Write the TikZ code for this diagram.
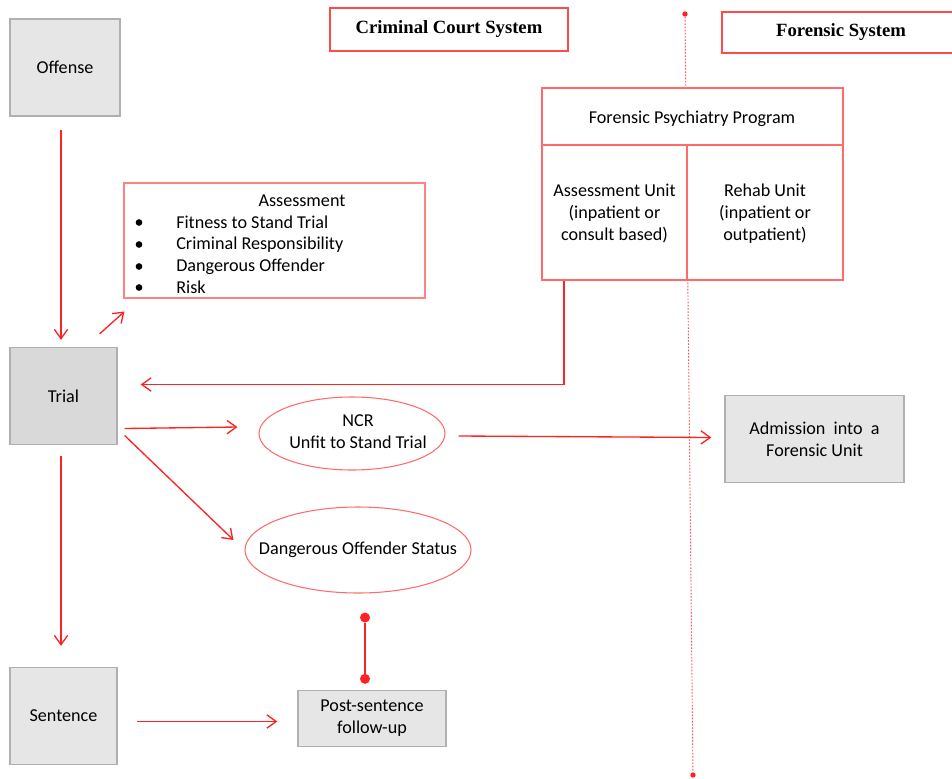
\documentclass[tikz,border=0pt]{standalone}
\usepackage{fontspec}
\setmainfont{Carlito}
\newfontfamily\titlefont{Liberation Serif}
\usetikzlibrary{arrows.meta,shapes.geometric,calc}
\definecolor{ared}{HTML}{FF2222}
\definecolor{bred}{HTML}{FF4A4A}
\definecolor{lred}{HTML}{FF6B6B}
\definecolor{gfill}{HTML}{E6E6E6}
\definecolor{gfilld}{HTML}{D9D9D9}
\definecolor{gline}{HTML}{B0B0B0}
\def\u{0.75pt}
\tikzset{
  every node/.style={font=\fontsize{13.6}{16.5}\selectfont, text=black},
  gbox/.style={draw=gline, line width=1pt, fill=gfill, inner sep=0pt},
  titlebox/.style={draw=bred, line width=1.4pt, fill=white, inner sep=0pt,
     font=\titlefont\bfseries\fontsize{14}{16}\selectfont, text=black},
  redbox/.style={draw=lred, line width=0.8pt, fill=white, inner sep=0pt, align=center},
  redell/.style={draw=lred, line width=0.8pt, ellipse, inner sep=0pt},
  arr/.style={draw=ared, line width=1pt, -{Straight Barb[length=7pt,width=10pt]}},
  dotline/.style={draw=ared!80, line width=0.7pt, dash pattern=on 1.2pt off 1.2pt},
  dotc/.style={circle, fill=ared, inner sep=0pt, minimum size=#1},
}
\begin{document}
\begin{tikzpicture}[x=\u,y=-\u]
\useasboundingbox (0,0) rectangle (952,778);

% dotted divider
\node[dotc=4pt] (dtop) at (685,14) {};
\node[dotc=4pt] (dbot) at (693,775) {};
\draw[dotline] (dtop) -- (dbot);

% titles
\node[titlebox, minimum width=238*\u, minimum height=43*\u] (ccs) at (449,29.5) {\raisebox{2pt}{Criminal Court System}};
\node[titlebox, minimum width=238*\u, minimum height=41*\u] (fs) at (841,32.5) {\raisebox{2pt}{Forensic System}};

% left column boxes
\node[gbox, minimum width=110*\u, minimum height=97*\u] (offense) at (65,67.5) {Offense};
\node[gbox, fill=gfilld, minimum width=107*\u, minimum height=97*\u] (trial) at (63.5,396) {Trial};
\node[gbox, minimum width=107*\u, minimum height=97*\u] (sentence) at (63.5,716) {Sentence};
\node[gbox, align=center, minimum width=148*\u, minimum height=56*\u] (post) at (372,718.5) {Post-sentence\\follow-up};
\node[gbox, align=center, minimum width=179*\u, minimum height=87*\u] (adm) at (814.5,439) {Admission\ \ into\ \ a\\Forensic Unit};

% assessment box
\node[redbox, draw=lred!85, minimum width=301*\u, minimum height=115*\u] (assess) at (274.5,240.5) {};
\node (atitle) at (302,200.5) {Assessment};
\foreach \i/\t/\yy in {1/Fitness to Stand Trial/222.5, 2/Criminal Responsibility/244.5, 3/Dangerous Offender/266.5, 4/Risk/287.5}{
  \node[dotc=5pt, fill=black] (b\i) at (139,\yy) {};
  \node[anchor=west, inner sep=0pt] (t\i) at (176,\yy) {\t};
}

% forensic psychiatry program
\node[redbox, minimum width=301*\u, minimum height=57*\u] (fpp) at (692.5,116.5) {};
\node (fppt) at (692,118.5) {Forensic Psychiatry Program};
\node[redbox, minimum width=145*\u, minimum height=135*\u] (au) at (614.5,212.5) {};
\node[align=center] (aut) at (614.5,213.5) {Assessment Unit\\(inpatient or\\consult based)};
\node[redbox, minimum width=156*\u, minimum height=135*\u] (ru) at (765,212.5) {};
\node[align=center] (rut) at (765,213.5) {Rehab Unit\\(inpatient or\\outpatient)};

% ellipses
\node[redell, minimum width=186*\u, minimum height=73*\u] (ncr) at (352,433.5) {};
\node[align=center] (ncrt) at (358,432) {NCR\\Unfit to Stand Trial};
\node[redell, minimum width=226*\u, minimum height=86*\u] (dang) at (358,550) {};
\node (dangt) at (358,549.5) {Dangerous Offender Status};

% connectors
\draw[arr] ($(offense.south)+(-4,13)$) -- ($(trial.north)+(-2.5,-7)$);
\draw[arr] ($(trial.north east)+(-18,-13)$) -- ($(assess.south west)+(1,13)$);
\draw[arr] ($(au.south west)+(22.5,0)$) |- ($(trial.east)+(23,-11.5)$);
\draw[arr] ($(trial.east)+(7,32.5)$) -- ($(ncr.west)+(-21,-6.5)$);
\draw[arr] ($(ncr.east)+(13,2.5)$) -- ($(adm.west)+(-13,-1.5)$);
\draw[arr] ($(trial.east)+(7,39.5)$) -- ($(dang.west)+(-11,-10)$);
\draw[arr] ($(trial.south)+(-2.5,11)$) -- ($(sentence.north)+(-2.5,-21)$);
\draw[arr] ($(sentence.east)+(19,5.5)$) -- ($(post.west)+(-20,3)$);
\node[dotc=7.5pt] (d1) at ($(dang.south)+(7,24)$) {};
\node[dotc=7.5pt] (d2) at ($(post.north)+(-7,-11)$) {};
\draw[draw=ared, line width=1.5pt] (d1) -- (d2);
\end{tikzpicture}
\end{document}
